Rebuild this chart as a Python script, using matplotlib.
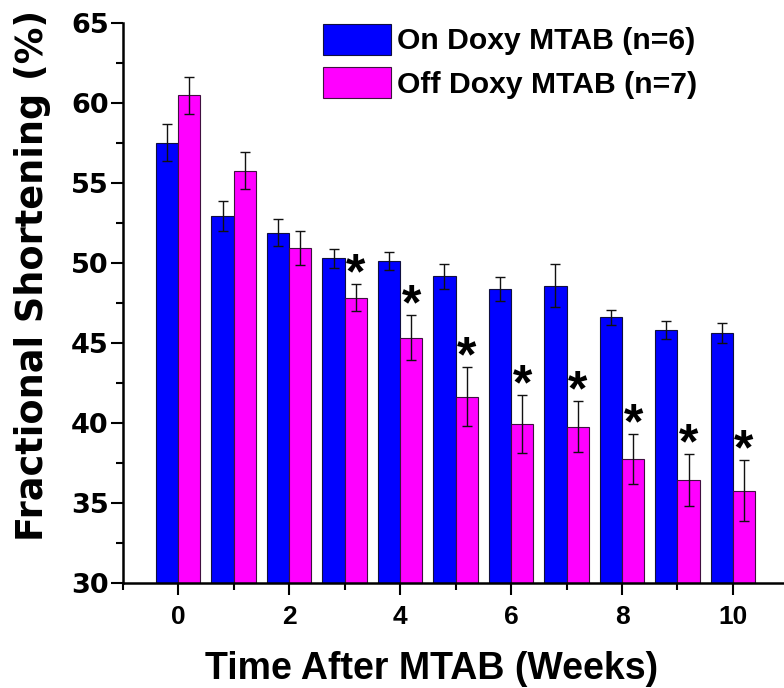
import numpy as np
import matplotlib
matplotlib.use("Agg")
from matplotlib import pyplot as plt
from matplotlib.ticker import MultipleLocator

# values
weeks = np.arange(11)
on_fs = [57.55, 52.96, 51.91, 50.31, 50.14, 49.19, 48.39, 48.60, 46.63, 45.83, 45.63]
on_err = [1.15, 0.92, 0.84, 0.58, 0.55, 0.77, 0.73, 1.34, 0.46, 0.58, 0.62]
off_fs = [60.50, 55.79, 50.98, 47.85, 45.35, 41.66, 39.96, 39.79, 37.77, 36.46, 35.79]
off_err = [1.16, 1.17, 1.06, 0.84, 1.42, 1.84, 1.81, 1.60, 1.56, 1.62, 1.92]
star_weeks = [3, 4, 5, 6, 7, 8, 9, 10]
labels = ["On Doxy MTAB (n=6)", "Off Doxy MTAB (n=7)"]

plt.rcParams["font.weight"] = "bold"

blue = "#0000FF"
magenta = "#FF00FF"
w = 0.4

fig = plt.figure(figsize=(7.84, 6.88), dpi=100)
ax = fig.add_axes([0.1565, 0.1522, 0.8435, 0.8139])

ax.bar(weeks - w / 2, on_fs, width=w, color=blue, edgecolor="#101040", linewidth=0.8,
       label=labels[0])
ax.bar(weeks + w / 2, off_fs, width=w, color=magenta, edgecolor="#401040", linewidth=0.8,
       label=labels[1])
ax.errorbar(weeks - w / 2, on_fs, yerr=on_err, fmt="none", ecolor="#111111",
            elinewidth=1.0, capsize=3.6, capthick=1.0)
ax.errorbar(weeks + w / 2, off_fs, yerr=off_err, fmt="none", ecolor="#111111",
            elinewidth=1.0, capsize=3.6, capthick=1.0)

for wk in star_weeks:
    top = off_fs[wk] + off_err[wk]
    ax.annotate("*", xy=(wk + w / 2, top), xytext=(0, -3), textcoords="offset points",
                ha="center", va="baseline", fontsize=36, fontweight="bold",
                family="Liberation Sans")

ax.set_xlim(-1, 10.92)
ax.set_ylim(30, 65)
ax.xaxis.set_major_locator(MultipleLocator(2))
ax.xaxis.set_minor_locator(MultipleLocator(1))
ax.yaxis.set_major_locator(MultipleLocator(5))
ax.yaxis.set_minor_locator(MultipleLocator(2.5))

for s in ["top", "right"]:
    ax.spines[s].set_visible(False)
for s in ["left", "bottom"]:
    ax.spines[s].set_linewidth(1.8)

ax.tick_params(axis="both", which="major", direction="out", width=1.5)
ax.tick_params(axis="both", which="minor", direction="out", width=1.5, length=5)
ax.tick_params(axis="x", which="major", length=8.6, pad=7, labelsize=19,
               labelfontfamily="Liberation Sans")
ax.tick_params(axis="y", which="major", length=8.6, pad=1.5, labelsize=19.5,
               labelfontfamily="DejaVu Sans")

ax.set_xlabel("Time After MTAB (Weeks)", family="Liberation Sans", fontweight="bold",
              fontsize=27)
ax.xaxis.set_label_coords(0.467, -0.121)
ax.set_ylabel("Fractional Shortening (%)", family="DejaVu Sans", fontweight="bold",
              fontsize=26.4)
ax.yaxis.set_label_coords(-0.109, 0.549)

ax.legend(loc="upper left", bbox_to_anchor=(0.4116, 0.9656), bbox_transform=fig.transFigure,
          frameon=False, borderpad=0, borderaxespad=0, handlelength=2.25, handleheight=1.2,
          handletextpad=0.2, labelspacing=0.4,
          prop={"family": "Liberation Sans", "weight": "bold", "size": 21.7})

fig.savefig("out.png", dpi=100)
